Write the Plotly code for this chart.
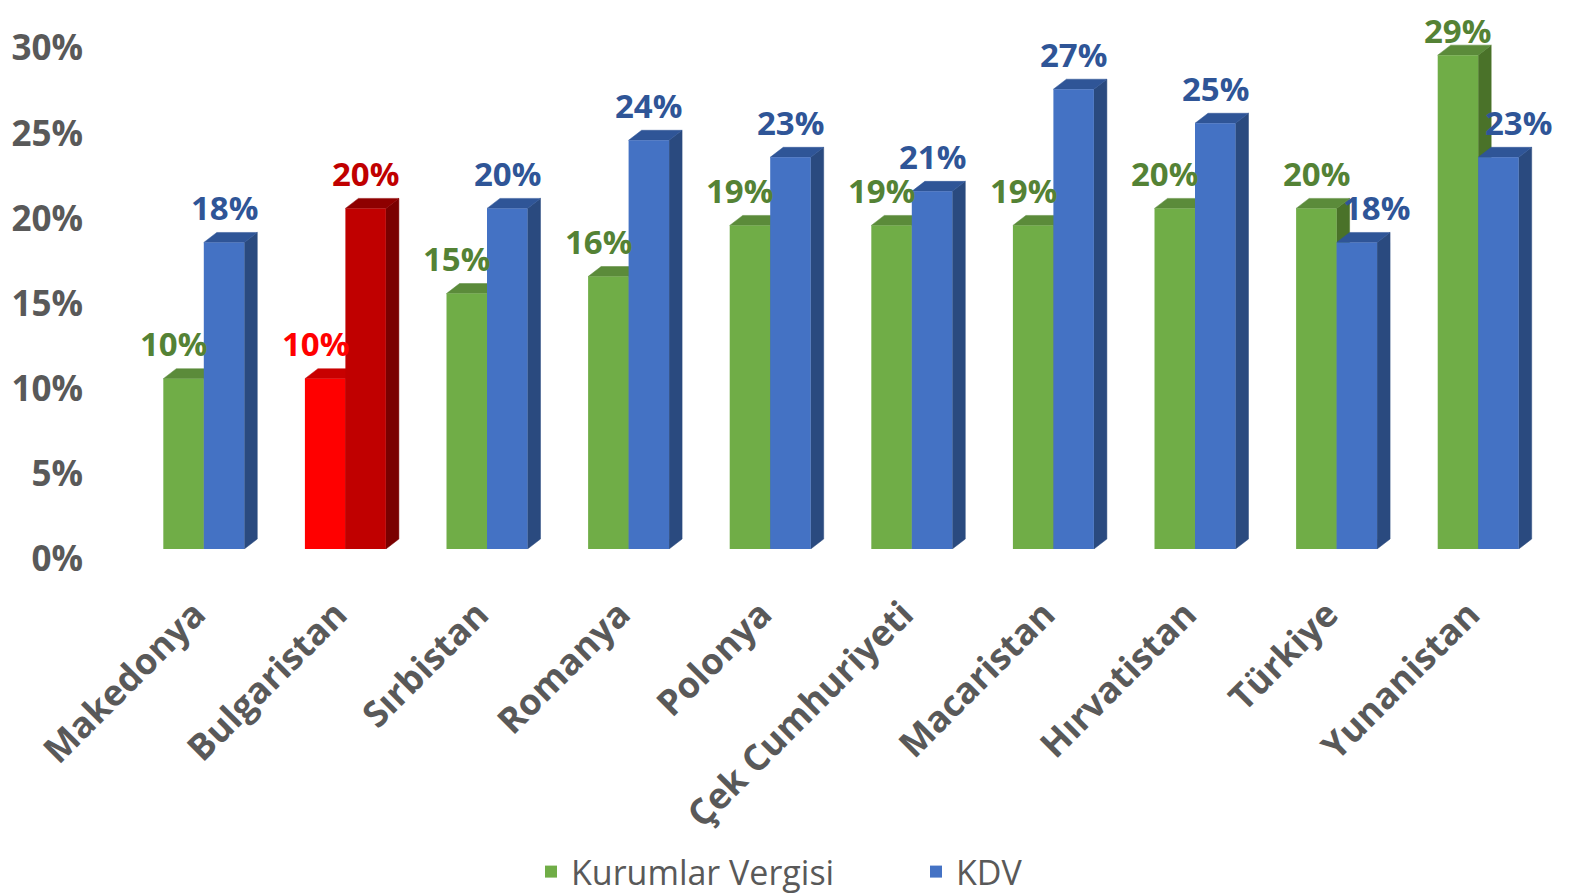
import plotly.graph_objects as go

# ---------------- data ----------------
categories = ["Makedonya", "Bulgaristan", "Sırbistan", "Romanya", "Polonya",
              "Çek Cumhuriyeti", "Macaristan", "Hırvatistan", "Türkiye", "Yunanistan"]
kurumlar_vergisi = [10, 10, 15, 16, 19, 19, 19, 20, 20, 29]
kdv = [18, 20, 20, 24, 23, 21, 27, 25, 18, 23]
series_names = ["Kurumlar Vergisi", "KDV"]
y_ticks = [0, 5, 10, 15, 20, 25, 30]
highlight_category = "Bulgaristan"

# ---------------- style ----------------
FONT = "Open Sans"
GREY = "#595959"
styles = [
    dict(front="#70AD47", top="#5B8B3A", side="#4A7229", label="#548235"),
    dict(front="#4472C4", top="#2F5597", side="#2A4A7F", label="#2F5597"),
]
highlight_styles = [
    dict(front="#FF0000", top="#C80000", side="#A00000", label="#FF0000"),
    dict(front="#C00000", top="#8E0000", side="#7A0000", label="#C00000"),
]

W, H = 1569, 893
PAGE = 8   # default body margin of the html page
ML = 133 - PAGE
MT = 10 - PAGE
plot_right = 1549.3 - PAGE
plot_bottom = 549 - PAGE
MR = W - plot_right
MB = H - plot_bottom
plot_w = W - ML - MR
plot_h = H - MT - MB
n = len(categories)
x_range = [-0.5, n - 0.5]
px_per_x = plot_w / n
px_per_y = 17.03
y_max = plot_h / px_per_y
DX = 13 / px_per_x          # depth offset (x) in data units
DY = 10 / px_per_y          # depth offset (y) in data units
BAR_W = 40.5 / px_per_x     # width of one bar in data units
LABEL_SIZE = 33

values = [kurumlar_vergisi, kdv]
fig = go.Figure()

# ---- 3D side and top faces (base subplot, drawn beneath the bar fronts) ----
for i, cat in enumerate(categories):
    for s in range(2):
        st = highlight_styles[s] if cat == highlight_category else styles[s]
        v = values[s][i]
        c = i + (s - 0.5) * BAR_W
        xl, xr = c - BAR_W / 2, c + BAR_W / 2
        fig.add_trace(go.Scatter(
            x=[xr, xr + DX, xr + DX, xr, xr], y=[0, DY, v + DY, v, 0],
            mode="lines", fill="toself", fillcolor=st["side"],
            line=dict(color=st["side"], width=0.5),
            hoverinfo="skip", showlegend=False, xaxis="x", yaxis="y"))
        fig.add_trace(go.Scatter(
            x=[xl, xr, xr + DX, xl + DX, xl], y=[v, v, v + DY, v + DY, v],
            mode="lines", fill="toself", fillcolor=st["top"],
            line=dict(color=st["top"], width=0.5),
            hoverinfo="skip", showlegend=False, xaxis="x", yaxis="y"))

# ---- bar fronts (overlay subplot, drawn above the faces) ----
for s in range(2):
    colors = [(highlight_styles[s] if cat == highlight_category else styles[s])["front"]
              for cat in categories]
    fig.add_trace(go.Bar(
        x=list(range(n)), y=values[s], name=series_names[s],
        marker=dict(color=colors, line=dict(width=0)),
        xaxis="x2", yaxis="y2", hovertemplate="%{y}%<extra>" + series_names[s] + "</extra>"))

# ---- data labels ----
annotations = []
for i, cat in enumerate(categories):
    for s in range(2):
        st = highlight_styles[s] if cat == highlight_category else styles[s]
        v = values[s][i]
        c = i + (s - 0.5) * BAR_W
        other = values[1 - s][i]
        if s == 0:
            xshift = -10 if other > v else 0
        else:
            xshift = 20 if other > v else 0
        # keep the label box inside the figure
        anchor_px = MT + (y_max - (v + DY)) * px_per_y
        yshift = min(25, anchor_px - 22)
        annotations.append(dict(
            x=c, y=v + DY, xref="x", yref="y", text=f"{v}%", showarrow=False,
            yanchor="middle", xanchor="center", yshift=yshift, xshift=xshift,
            font=dict(family=FONT, size=LABEL_SIZE, color=st["label"], weight="bold")))

fig.update_layout(
    width=W, height=H,
    margin=dict(l=ML, r=MR, t=MT, b=MB, autoexpand=False),
    paper_bgcolor="white", plot_bgcolor="white",
    barmode="group", bargap=1 - 2 * BAR_W, bargroupgap=0,
    showlegend=True,
    legend=dict(orientation="h", xref="container", yref="container",
                x=(531 - PAGE) / W, xanchor="left", y=1 - (872 - PAGE) / H, yanchor="middle",
                font=dict(family=FONT, size=34, color=GREY),
                itemwidth=30, entrywidth=340, traceorder="normal"),
    annotations=annotations,
    xaxis=dict(range=x_range, tickmode="array", tickvals=list(range(n)), ticktext=categories,
               tickangle=-45, showgrid=False, zeroline=False, showline=False, ticks="",
               ticklabelstandoff=36, ticklabelshift=-9, automargin=False,
               tickfont=dict(family=FONT, size=36, color=GREY, weight="bold")),
    yaxis=dict(range=[0, y_max], tickmode="array", tickvals=y_ticks,
               ticktext=[f"{t}%" for t in y_ticks], showgrid=False, zeroline=False,
               showline=False, ticks="", ticklabelshift=10, ticklabelstandoff=49,
               automargin=False,
               tickfont=dict(family=FONT, size=35, color=GREY, weight="bold")),
    xaxis2=dict(range=x_range, overlaying="x", matches="x", visible=False, automargin=False),
    yaxis2=dict(range=[0, y_max], overlaying="y", matches="y", visible=False, automargin=False),
)

fig.write_html("out.html")
